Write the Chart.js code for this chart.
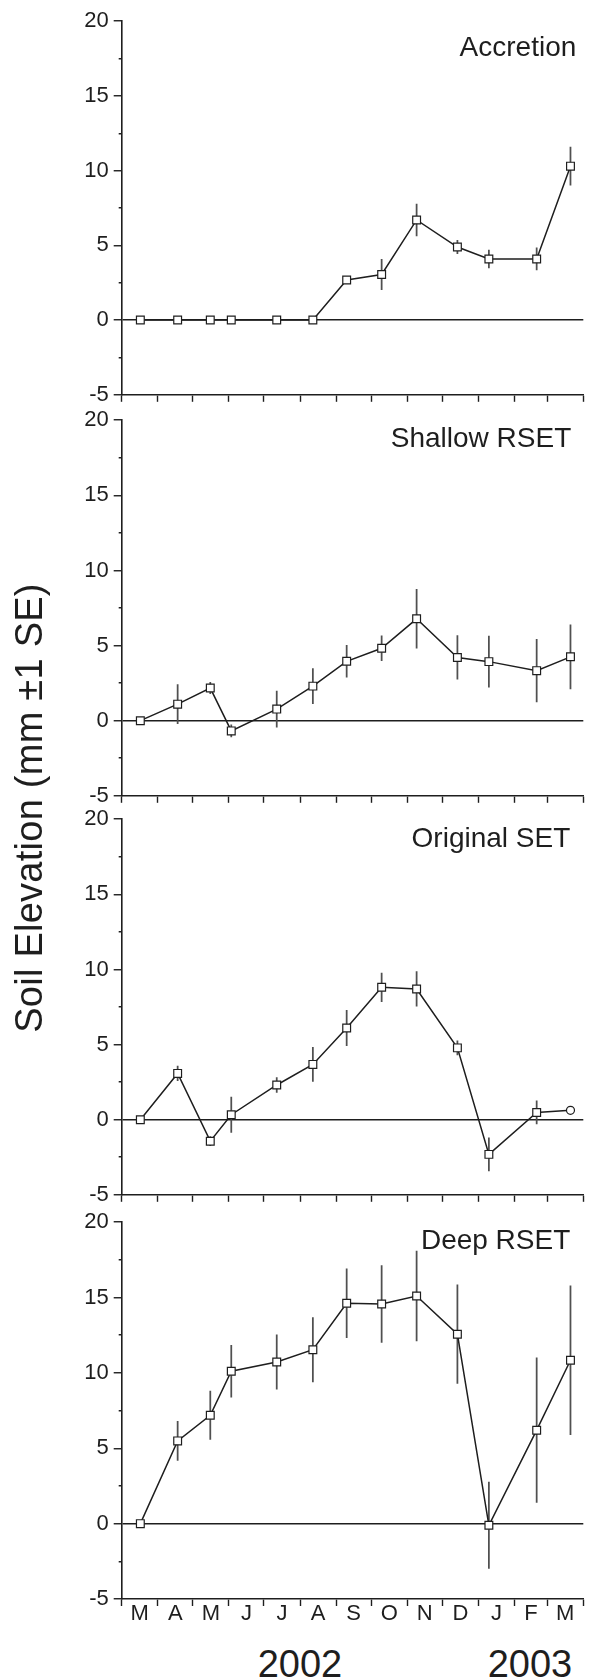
<!DOCTYPE html>
<html>
<head>
<meta charset="utf-8">
<script src="https://cdn.jsdelivr.net/npm/chart.js@4/dist/chart.umd.min.js"></script>
<style>
html,body{margin:0;padding:0;background:#fff;width:590px;height:1679px;overflow:hidden;}
#wrap{position:relative;width:590px;height:1679px;font-family:"Liberation Sans",Arial,sans-serif;color:#1e1e1e;}
#wrap canvas{position:absolute;left:0;}
.ytitle{position:absolute;width:600px;height:40px;line-height:40px;font-size:38px;letter-spacing:0.25px;text-align:center;white-space:nowrap;transform:rotate(-90deg);}
.year{position:absolute;width:200px;height:38px;line-height:38px;font-size:38px;text-align:center;}
</style>
</head>
<body>
<div id="wrap">
  <canvas id="c0"></canvas>
  <canvas id="c1"></canvas>
  <canvas id="c2"></canvas>
  <canvas id="c3"></canvas>
  <div class="ytitle" style="left:-271px;top:788px;">Soil Elevation (mm ±1 SE)</div>
  <div class="year" style="left:200px;top:1645px;">2002</div>
  <div class="year" style="left:430px;top:1645px;">2003</div>
</div>
<script>
// ---------- data ----------
const sampleDates = ['2002-03-17','2002-04-18','2002-05-16','2002-06-03','2002-07-12','2002-08-12',
  '2002-09-10','2002-10-10','2002-11-09','2002-12-14','2003-01-10','2003-02-20','2003-03-21'];
const monthStarts = ['2002-03-01','2002-04-01','2002-05-01','2002-06-01','2002-07-01','2002-08-01',
  '2002-09-01','2002-10-01','2002-11-01','2002-12-01','2003-01-01','2003-02-01','2003-03-01','2003-04-01'];
const monthLabels = ['M','A','M','J','J','A','S','O','N','D','J','F','M'];
const yTickValues = [-5, 0, 5, 10, 15, 20];
const panelTitles = ['Accretion', 'Shallow RSET', 'Original SET', 'Deep RSET'];

const accretionMean = [0, 0, 0, 0, 0, 0, 2.68, 3.05, 6.7, 4.89, 4.09, 4.09, 10.3];
const accretionSE   = [0, 0, 0, 0, 0, 0, 0.12, 1.02, 1.06, 0.44, 0.6, 0.74, 1.27];
const shallowMean   = [0, 1.1, 2.17, -0.68, 0.77, 2.3, 3.95, 4.82, 6.78, 4.21, 3.93, 3.33, 4.25];
const shallowSE     = [0, 1.3, 0.38, 0.4, 1.2, 1.17, 1.06, 0.82, 1.96, 1.45, 1.7, 2.08, 2.13];
const originalMean  = [0, 3.08, -1.43, 0.33, 2.31, 3.68, 6.1, 8.81, 8.7, 4.78, -2.31, 0.48, 0.62];
const originalSE    = [0, 0.48, 0.3, 1.17, 0.5, 1.13, 1.18, 0.95, 1.15, 0.47, 1.1, 0.77, 0];
const deepMean      = [0, 5.49, 7.19, 10.11, 10.73, 11.54, 14.62, 14.57, 15.1, 12.57, -0.11, 6.2, 10.84];
const deepSE        = [0, 1.3, 1.6, 1.72, 1.8, 2.14, 2.28, 2.55, 2.98, 3.27, 2.86, 4.8, 4.93];

const panelMeans = [accretionMean, shallowMean, originalMean, deepMean];
const panelSEs = [accretionSE, shallowSE, originalSE, deepSE];

// ---------- layout / style ----------
const plotTop = [19, 418, 817, 1220];
const plotH = [378, 380, 380, 379];
const padTop = 16;
const axisH = [16, 16, 16, 44];
const titleBaseline = [35, 27, 28, 27];
const titleRight = [7, 12, 13, 13];
const INK = '#1e1e1e';
const FONT = '"Liberation Sans", Arial, sans-serif';

function dayIndex(s) {
  const [y, m, d] = s.split('-').map(Number);
  return (Date.UTC(y, m - 1, d) - Date.UTC(2002, 2, 1)) / 86400000;
}
const monthStartDays = monthStarts.map(dayIndex);
const monthMidDays = monthLabels.map((_, i) => (monthStartDays[i] + monthStartDays[i + 1]) / 2);
const sampleDays = sampleDates.map(dayIndex);

const titlePlugin = {
  id: 'panelTitle',
  afterDraw(chart, args, opts) {
    const { ctx, chartArea } = chart;
    ctx.save();
    ctx.font = '28px ' + FONT;
    ctx.fillStyle = INK;
    ctx.textAlign = 'right';
    ctx.textBaseline = 'alphabetic';
    ctx.fillText(opts.text, chartArea.right - opts.right, chartArea.top + opts.baseline);
    ctx.restore();
  }
};

function makeChart(p) {
  const canvas = document.getElementById('c' + p);
  const h = padTop + plotH[p] + axisH[p];
  canvas.width = 590; canvas.height = h;
  canvas.style.width = '590px'; canvas.style.height = h + 'px';
  canvas.style.top = (plotTop[p] - padTop) + 'px';
  const means = panelMeans[p], ses = panelSEs[p];
  const showLabels = p === 3;
  const pointStyles = sampleDays.map((_, i) => (p === 2 && i === sampleDays.length - 1) ? 'circle' : 'rect');
  const pointRadii = sampleDays.map((_, i) => (p === 2 && i === sampleDays.length - 1) ? 4 : 5.5);

  return new Chart(canvas, {
    type: 'line',
    data: {
      datasets: [
        {
          type: 'line',
          data: sampleDays.map((d, i) => ({ x: d, y: means[i] })),
          borderColor: INK,
          borderWidth: 1.5,
          tension: 0,
          pointStyle: pointStyles,
          pointRadius: pointRadii,
          pointBackgroundColor: '#ffffff',
          pointBorderColor: INK,
          pointBorderWidth: 1.2,
          order: 0
        },
        {
          type: 'bar',
          data: sampleDays.map((d, i) => ({ x: d, y: [means[i] - ses[i], means[i] + ses[i]] })),
          backgroundColor: '#505050',
          barThickness: 1.1,
          order: 1
        }
      ]
    },
    options: {
      responsive: false,
      animation: false,
      events: [],
      layout: { padding: { top: padTop, left: 0, right: 0, bottom: 0 } },
      plugins: {
        legend: { display: false },
        tooltip: { enabled: false },
        panelTitle: { text: panelTitles[p], baseline: titleBaseline[p], right: titleRight[p] }
      },
      scales: {
        x: {
          type: 'linear',
          position: 'bottom',
          min: monthStartDays[0],
          max: monthStartDays[monthStartDays.length - 1],
          offset: false,
          afterBuildTicks: s => {
            const t = monthStartDays.map(v => ({ value: v }))
              .concat(monthMidDays.map(v => ({ value: v })));
            t.sort((a, b) => a.value - b.value);
            s.ticks = t;
          },
          afterFit: s => { s.height = axisH[p]; },
          ticks: {
            autoSkip: false,
            maxRotation: 0,
            minRotation: 0,
            padding: -5,
            color: INK,
            font: { family: FONT, size: 22 },
            callback: v => {
              if (!showLabels) return '';
              const i = monthMidDays.indexOf(v);
              return i >= 0 ? monthLabels[i] : '';
            }
          },
          grid: {
            offset: false,
            drawOnChartArea: false,
            tickLength: 7,
            tickWidth: 1.4,
            tickColor: ctx => (ctx.tick && monthStartDays.includes(ctx.tick.value)) ? INK : 'rgba(0,0,0,0)'
          },
          border: { display: true, color: INK, width: 1.6 }
        },
        y: {
          type: 'linear',
          position: 'left',
          min: -5,
          max: 20,
          afterFit: s => { s.width = 121.7; },
          ticks: {
            stepSize: 2.5,
            autoSkip: false,
            padding: 5,
            color: INK,
            font: { family: FONT, size: 22 },
            callback: v => yTickValues.includes(v) ? String(v) : ''
          },
          grid: {
            drawOnChartArea: true,
            color: ctx => (ctx.tick && ctx.tick.value === 0) ? INK : 'rgba(0,0,0,0)',
            lineWidth: 1.5,
            tickLength: 8,
            tickWidth: 1.4,
            tickColor: INK,
            tickBorderDash: ctx => (ctx.tick && yTickValues.includes(ctx.tick.value)) ? [] : [0, 5, 3, 100]
          },
          border: { display: true, color: INK, width: 1.6 }
        }
      }
    },
    plugins: [titlePlugin]
  });
}

[0, 1, 2, 3].forEach(makeChart);
</script>
</body>
</html>
